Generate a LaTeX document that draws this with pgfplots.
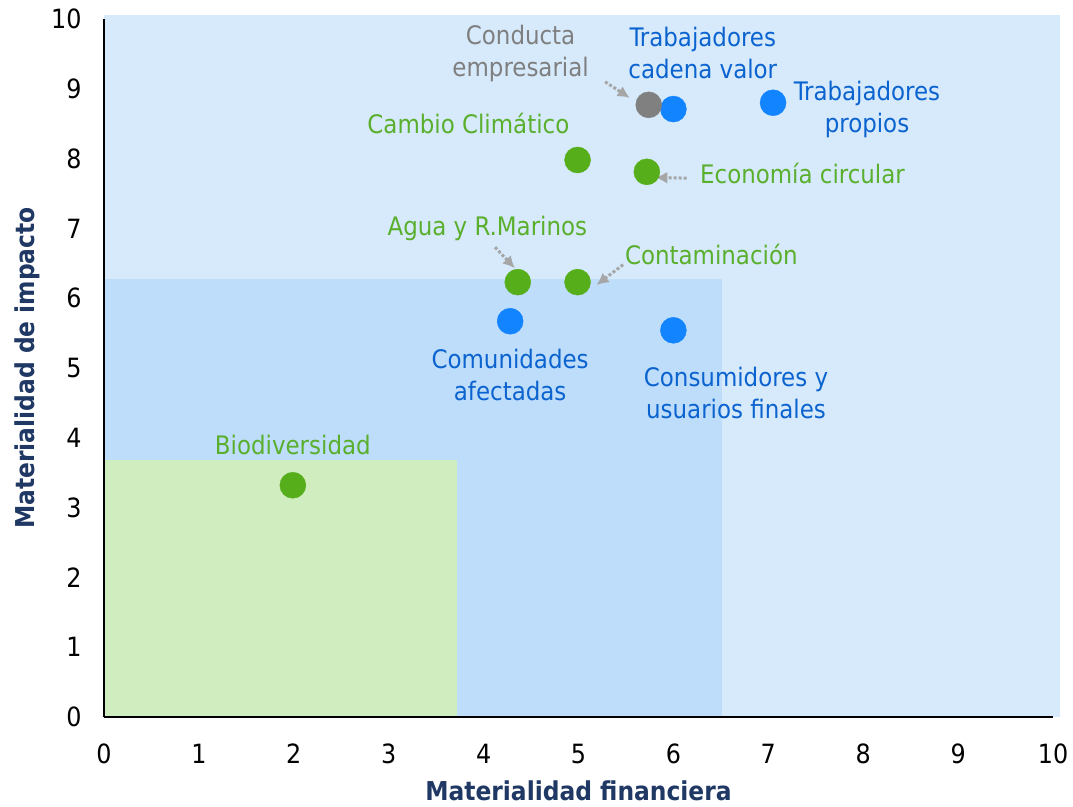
\documentclass[border=0pt]{standalone}
\usepackage{fontspec}
\setmainfont{DejaVu Sans Condensed}
\usepackage{pgfplots}
\pgfplotsset{compat=1.18}
\usetikzlibrary{arrows.meta}
\definecolor{bgL}{HTML}{D6EAFC}
\definecolor{bgM}{HTML}{BDDDFB}
\definecolor{bgG}{HTML}{CFEDBF}
\definecolor{mGreen}{HTML}{56AE1A}
\definecolor{mBlue}{HTML}{1384FF}
\definecolor{mGray}{HTML}{808080}
\definecolor{tGreen}{HTML}{5AAF2D}
\definecolor{tBlue}{HTML}{0B63CF}
\definecolor{tGray}{HTML}{7F7F7F}
\definecolor{navy}{HTML}{1F3864}
\definecolor{arr}{HTML}{A6A6A6}
\begin{document}
\begin{tikzpicture}
\begin{axis}[
  scale only axis, width=949pt, height=698pt,
  xmin=0, xmax=10, ymin=0, ymax=10,
  axis x line=bottom, axis y line=left,
  axis line style={black, line width=1.8pt, -},
  axis on top,
  clip=false,
  xtick={0,...,10}, ytick={0,...,10},
  major tick length=0pt,
  tick label style={font=\fontsize{26.5}{30}\selectfont},
  /pgf/number format/assume math mode=true,
  xticklabel style={anchor=center, yshift=-37pt},
  yticklabel style={anchor=east, xshift=-19pt},
  xlabel={\textbf{Materialidad financiera}},
  ylabel={\textbf{Materialidad de impacto}},
  label style={font=\fontsize{26}{30}\selectfont, text=navy},
  xlabel style={yshift=-10pt},
  ylabel style={yshift=4pt},
]
\fill[bgL] (axis cs:0,0) rectangle (axis cs:10.07,10.06);
\fill[bgM] (axis cs:0,0) rectangle (axis cs:6.51,6.28);
\fill[bgG] (axis cs:0,0) rectangle (axis cs:3.72,3.68);
\coordinate (O) at (axis cs:0,0);

\addplot[only marks, mark=*, mark size=13pt, mGreen, mark options={draw=mGreen, fill=mGreen}] coordinates {
 (4.99,7.98) (5.72,7.81) (4.36,6.23) (4.99,6.23) (1.99,3.32)};
\addplot[only marks, mark=*, mark size=13pt, mBlue, mark options={draw=mBlue, fill=mBlue}] coordinates {
 (6.00,8.71) (7.05,8.80) (4.28,5.67) (6.00,5.54)};
\addplot[only marks, mark=*, mark size=13pt, mGray, mark options={draw=mGray, fill=mGray}] coordinates {
 (5.74,8.77)};

\begin{scope}[arr, line width=3pt, dotted, -{Latex[length=12pt,width=12pt]}]
\draw (axis cs:5.28,9.10) -- (axis cs:5.54,8.87);
\draw (axis cs:6.14,7.72) -- (axis cs:5.81,7.73);
\draw (axis cs:4.12,6.73) -- (axis cs:4.33,6.43);
\draw (axis cs:5.47,6.48) -- (axis cs:5.19,6.19);
\end{scope}

\begin{scope}[every node/.style={font=\fontsize{25.5}{32}\selectfont, align=center, inner sep=0pt}]
\node[text=tGray] at (axis cs:4.39,9.51) {Conducta\\empresarial};
\node[text=tBlue] at (axis cs:6.31,9.51) {Trabajadores\\cadena valor};
\node[text=tBlue] at (axis cs:8.04,8.70) {Trabajadores\\propios};
\node[text=tGreen] at (axis cs:3.84,8.51) {Cambio Climático};
\node[text=tGreen, anchor=west] at (axis cs:6.28,7.78) {Economía circular};
\node[text=tGreen] at (axis cs:4.04,7.00) {Agua y R.Marinos};
\node[text=tGreen] at (axis cs:6.40,6.62) {Contaminación};
\node[text=tBlue] at (axis cs:4.28,4.90) {Comunidades\\afectadas};
\node[text=tBlue] at (axis cs:6.66,4.64) {Consumidores y\\usuarios finales};
\node[text=tGreen] at (axis cs:1.99,3.90) {Biodiversidad};
\end{scope}
\end{axis}
\pgfresetboundingbox
\path (O) ++(-104pt,-89pt) rectangle ++(1073pt,806pt);
\end{tikzpicture}
\end{document}
